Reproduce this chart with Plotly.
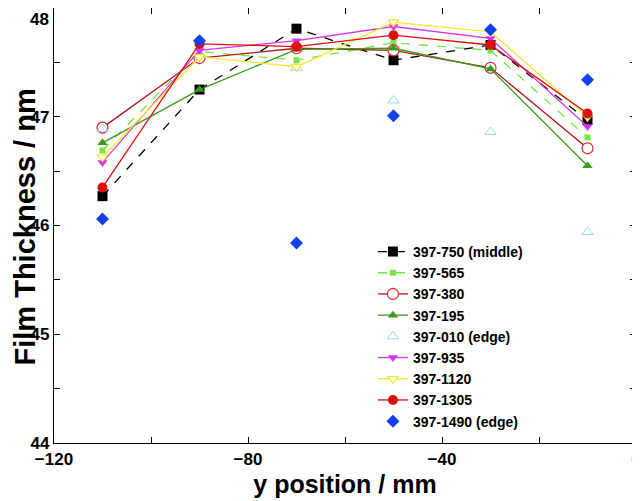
import plotly.graph_objects as go

x = [-110, -90, -70, -50, -30, -10]

names = ["397-750 (middle)", "397-565", "397-380", "397-195", "397-010 (edge)",
         "397-935", "397-1120", "397-1305", "397-1490 (edge)"]

t750 = [46.27, 47.25, 47.81, 47.52, 47.66, 46.97]
t565 = [46.69, 47.60, 47.52, 47.68, 47.61, 46.81]
t380 = [46.90, 47.54, 47.63, 47.61, 47.45, 46.71]
t195 = [46.76, 47.25, 47.62, 47.63, 47.44, 46.55]
t010 = [46.89, 47.57, 47.45, 47.15, 46.86, 45.94]
t935 = [46.58, 47.61, 47.70, 47.83, 47.72, 46.91]
t1120 = [46.63, 47.55, 47.46, 47.87, 47.78, 47.00]
t1305 = [46.35, 47.67, 47.645, 47.75, 47.66, 47.03]
t1490 = [46.06, 47.70, 45.84, 47.01, 47.80, 47.34]

y_ticks = [44, 45, 46, 47, 48]

fig = go.Figure()

def add(name, y, color, symbol, size, mode="lines+markers", dash="solid",
        line_color=None, open_marker=False):
    marker = dict(symbol=symbol, size=size, color=color)
    if open_marker:
        marker = dict(symbol=symbol, size=size, color="white",
                      line=dict(color=color, width=1.2))
    fig.add_trace(go.Scatter(
        x=x, y=y, name=name, mode=mode, marker=marker,
        line=dict(color=line_color or color, width=1.3, dash=dash)))

add(names[0], t750, "black", "square", 10, dash="dash")
add(names[1], t565, "#72e840", "square", 6, dash="dash")
add(names[2], t380, "#e8202a", "circle", 11, line_color="#b01818", open_marker=True)
add(names[3], t195, "#3a9a1a", "triangle-up", 9)
add(names[4], t010, "#8fdcf0", "triangle-up-open", 10, mode="markers")
add(names[5], t935, "#d238e8", "triangle-down", 9)
add(names[6], t1120, "#f5e830", "triangle-down", 9, open_marker=True)
add(names[7], t1305, "#dd1010", "circle", 10)
add(names[8], t1490, "#1040f0", "diamond", 10, mode="markers")

axis_common = dict(
    showline=True, linecolor="black", linewidth=1.2, mirror="ticks",
    ticks="inside", ticklen=6, tickcolor="black", showgrid=False,
    zeroline=False, tickfont=dict(size=17, color="black"),
    automargin=False, ticklabeloverflow="allow",
)

fig.update_xaxes(
    range=[-120, 0], dtick=40, tick0=-120,
    minor=dict(dtick=20, ticks="inside", ticklen=6, tickcolor="black"),
    title=dict(text="y position / mm", font=dict(size=25, color="black"), standoff=7),
    **axis_common)
# top label "48" would be clipped at the edge, so it's drawn as an annotation
fig.update_yaxes(
    range=[44, 48], tickvals=y_ticks,
    ticktext=[str(v) for v in y_ticks[:-1]] + [""],
    minor=dict(dtick=0.5, ticks="inside", ticklen=6, tickcolor="black"),
    **axis_common)

fig.add_annotation(x=0, xref="paper", y=y_ticks[-1], yref="y", text=str(y_ticks[-1]),
                   showarrow=False, xanchor="right", yanchor="top", xshift=-3,
                   font=dict(size=17, color="black"))
# y title placed by hand, the axis title would not move out far enough
fig.add_annotation(x=0, xref="paper", y=0.5, yref="paper", text="Film Thickness / nm",
                   textangle=-90, showarrow=False, xanchor="center", yanchor="middle",
                   xshift=-30, yshift=-2, font=dict(size=29, color="black"))

# page body has an 8px margin, so the figure is sized to fill the rest
fig.update_layout(
    width=632, height=493,
    margin=dict(l=46, r=4, t=0, b=58),
    plot_bgcolor="white", paper_bgcolor="white",
    font=dict(family="Liberation Sans, Arial, sans-serif", weight="bold", color="black"),
    legend=dict(x=0.548, y=0.476, xanchor="left", yanchor="top",
                bgcolor="rgba(0,0,0,0)", font=dict(size=14, weight="bold"),
                tracegroupgap=0, itemwidth=30),
)

fig.write_html("out.html")
